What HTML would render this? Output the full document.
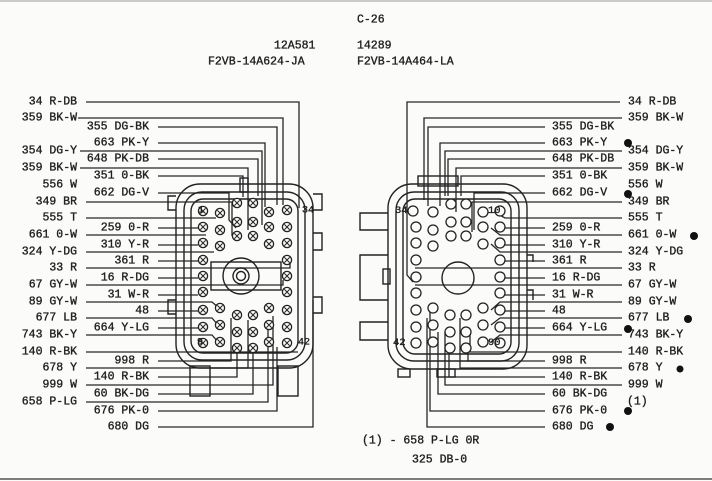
<!DOCTYPE html>
<html><head><meta charset="utf-8"><style>
html,body{margin:0;padding:0;background:#fbfbf9;}
svg{display:block;}
text{font-family:"Liberation Mono","DejaVu Sans Mono",monospace;font-size:11.5px;fill:#1e1e1e;dominant-baseline:central;stroke:#1e1e1e;stroke-width:0.35;}
.w{stroke:#262626;stroke-width:1.3;fill:none;}
.b{stroke:#222;stroke-width:1.4;fill:none;}
</style></head><body>
<svg width="712" height="481" viewBox="0 0 712 481" xmlns="http://www.w3.org/2000/svg">
<defs>
<g id="px"><circle r="4.6" fill="#fbfbf9" stroke="#222" stroke-width="1.3"/><path d="M-2.6,-2.6L2.6,2.6M2.6,-2.6L-2.6,2.6" stroke="#222" stroke-width="1"/></g>
<g id="po"><circle r="5" fill="#fbfbf9" stroke="#222" stroke-width="1.3"/></g>
</defs>
<line x1="0" y1="479" x2="712" y2="479" stroke="#555" stroke-width="1.5"/>
<line x1="0" y1="1" x2="712" y2="1" stroke="#999" stroke-width="1"/>

<text x="357" y="20">C-26</text>
<text x="274" y="46">12A581</text>
<text x="357" y="46">14289</text>
<text x="208" y="62">F2VB-14A624-JA</text>
<text x="357" y="62">F2VB-14A464-LA</text>
<text x="362" y="441">(1) - 658 P-LG 0R</text>
<text x="412" y="460">325 DB-0</text>

<g class="w">
<path d="M86,102H299V208"/>
<path d="M78,118H283V205"/>
<path d="M158,127H277V205"/>
<path d="M158,143H265V207"/>
<path d="M80,151H262V225"/>
<path d="M158,159H258V196"/>
<path d="M80,168H248V230"/>
<path d="M158,176H243V197"/>
<path d="M158,193H229V220L236,228"/>
<path d="M86,202H232V236"/>
<path d="M86,218H216"/>
<path d="M86,235H206"/>
<path d="M158,228H198"/>
<path d="M158,245H198"/>
<path d="M86,252H214"/>
<path d="M158,261H198"/>
<path d="M86,268H290V262"/>
<path d="M158,278H198"/>
<path d="M86,285H283V280"/>
<path d="M158,295H198"/>
<path d="M86,302H212L219,308"/>
<path d="M158,311H198"/>
<path d="M86,318H212L218,325"/>
<path d="M158,328H198"/>
<path d="M86,335H212L218,342"/>
<path d="M86,352H298"/>
<path d="M158,361H231V318"/>
<path d="M86,368H248V320"/>
<path d="M158,377H237V350"/>
<path d="M86,385H273V316"/>
<path d="M158,394H253V350"/>
<path d="M86,402H268V328"/>
<path d="M158,411H277V347"/>
<path d="M158,427H313V300"/>
</g>
<g class="b">
<rect x="176" y="184" width="137" height="184" rx="24"/>
<rect x="184" y="192" width="121" height="168" rx="18"/>
<rect x="191" y="199" width="107" height="154" rx="12"/>
<rect x="211" y="262" width="70" height="28"/>
<circle cx="241" cy="276" r="18"/>
<circle cx="241" cy="276" r="8"/>
<circle cx="241" cy="276" r="4.5"/>
<path d="M313,194H322V210H313M313,233H322V250H313M313,297H322V313H313"/>
<path d="M176,196H168V210H176M176,300H168V314H176"/>
<rect x="190" y="366" width="20" height="30"/>
<rect x="278" y="366" width="20" height="30"/>
<rect x="240" y="178" width="8" height="14"/>
</g>
<g>
<use href="#px" x="203" y="211"/><use href="#px" x="220" y="213"/><use href="#px" x="237" y="203"/><use href="#px" x="253" y="203"/><use href="#px" x="269" y="212"/><use href="#px" x="287" y="210"/>
<use href="#px" x="203" y="227"/><use href="#px" x="220" y="230"/><use href="#px" x="237" y="222"/><use href="#px" x="253" y="222"/><use href="#px" x="269" y="227"/><use href="#px" x="287" y="227"/>
<use href="#px" x="203" y="243"/><use href="#px" x="220" y="246"/><use href="#px" x="237" y="236"/><use href="#px" x="253" y="236"/><use href="#px" x="269" y="244"/><use href="#px" x="287" y="243"/>
<use href="#px" x="203" y="260"/><use href="#px" x="203" y="276"/><use href="#px" x="203" y="292"/>
<use href="#px" x="287" y="260"/><use href="#px" x="287" y="276"/><use href="#px" x="287" y="292"/>
<use href="#px" x="203" y="310"/><use href="#px" x="220" y="308"/><use href="#px" x="237" y="315"/><use href="#px" x="253" y="315"/><use href="#px" x="269" y="308"/><use href="#px" x="287" y="310"/>
<use href="#px" x="203" y="327"/><use href="#px" x="220" y="325"/><use href="#px" x="237" y="332"/><use href="#px" x="253" y="332"/><use href="#px" x="269" y="325"/><use href="#px" x="287" y="327"/>
<use href="#px" x="203" y="343"/><use href="#px" x="220" y="342"/><use href="#px" x="237" y="348"/><use href="#px" x="253" y="348"/><use href="#px" x="269" y="342"/><use href="#px" x="287" y="343"/>
</g>
<text x="198" y="211" style="font-size:10px">1</text>
<text x="302" y="211" style="font-size:10px">34</text>
<text x="197" y="343" style="font-size:10px">9</text>
<text x="298" y="343" style="font-size:10px">42</text>

<g text-anchor="end">
<text x="77" y="102">34 R-DB</text>
<text x="77" y="118">359 BK-W</text>
<text x="77" y="151">354 DG-Y</text>
<text x="77" y="168">359 BK-W</text>
<text x="77" y="185">556 W</text>
<text x="77" y="202">349 BR</text>
<text x="77" y="218">555 T</text>
<text x="77" y="235">661 0-W</text>
<text x="77" y="252">324 Y-DG</text>
<text x="77" y="268">33 R</text>
<text x="77" y="285">67 GY-W</text>
<text x="77" y="302">89 GY-W</text>
<text x="77" y="318">677 LB</text>
<text x="77" y="335">743 BK-Y</text>
<text x="77" y="352">140 R-BK</text>
<text x="77" y="368">678 Y</text>
<text x="77" y="385">999 W</text>
<text x="77" y="402">658 P-LG</text>
<text x="149" y="127">355 DG-BK</text>
<text x="149" y="143">663 PK-Y</text>
<text x="149" y="159">648 PK-DB</text>
<text x="149" y="176">351 0-BK</text>
<text x="149" y="193">662 DG-V</text>
<text x="149" y="228">259 0-R</text>
<text x="149" y="245">310 Y-R</text>
<text x="149" y="261">361 R</text>
<text x="149" y="278">16 R-DG</text>
<text x="149" y="295">31 W-R</text>
<text x="149" y="311">48</text>
<text x="149" y="328">664 Y-LG</text>
<text x="149" y="361">998 R</text>
<text x="149" y="377">140 R-BK</text>
<text x="149" y="394">60 BK-DG</text>
<text x="149" y="411">676 PK-0</text>
<text x="149" y="427">680 DG</text>
</g>

<g class="w">
<path d="M620,102H407V275L413,282"/>
<path d="M622,118H424V200"/>
<path d="M545,127H428V206"/>
<path d="M545,143H440V206"/>
<path d="M622,151H445V196"/>
<path d="M545,159H448V196"/>
<path d="M622,168H456V212"/>
<path d="M545,176H461V196"/>
<path d="M545,193H474V230"/>
<path d="M622,202H472V232"/>
<path d="M622,218H505L494,212"/>
<path d="M545,228H505"/>
<path d="M622,235H500L491,228"/>
<path d="M545,245H505"/>
<path d="M622,252H500L491,244"/>
<path d="M545,261H505"/>
<path d="M622,268H415"/>
<path d="M545,278H505"/>
<path d="M622,285H415"/>
<path d="M545,295H505"/>
<path d="M622,302H500L491,310"/>
<path d="M545,311H505"/>
<path d="M622,318H500L491,325"/>
<path d="M545,328H505"/>
<path d="M622,335H500L491,342"/>
<path d="M622,352H470V332"/>
<path d="M545,361H468V350"/>
<path d="M622,368H460V318"/>
<path d="M545,377H449V350"/>
<path d="M622,385H445V332"/>
<path d="M545,394H438V332"/>
<path d="M545,411H430V310"/>
<path d="M545,427H427V318"/>
</g>
<g class="b">
<rect x="388" y="184" width="139" height="185" rx="24"/>
<rect x="396" y="192" width="123" height="169" rx="18"/>
<rect x="403" y="199" width="108" height="155" rx="12"/>
<circle cx="458" cy="278" r="16"/>
<path d="M388,213H360V230H388M388,255H360V300H388M388,322H360V340H388"/>
<rect x="383" y="269" width="7" height="15"/>
<path d="M527,255H533V262M527,290H533V300"/>
<rect x="398" y="369" width="12" height="8"/>
<rect x="437" y="369" width="18" height="8"/>
<rect x="418" y="176" width="40" height="10"/>
</g>
<g>
<use href="#po" x="413" y="211"/><use href="#po" x="433" y="212"/><use href="#po" x="451" y="204"/><use href="#po" x="466" y="204"/><use href="#po" x="483" y="212"/><use href="#po" x="500" y="211"/>
<use href="#po" x="416" y="227"/><use href="#po" x="433" y="230"/><use href="#po" x="451" y="222"/><use href="#po" x="466" y="222"/><use href="#po" x="483" y="227"/><use href="#po" x="500" y="227"/>
<use href="#po" x="416" y="243"/><use href="#po" x="433" y="246"/><use href="#po" x="451" y="236"/><use href="#po" x="466" y="236"/><use href="#po" x="483" y="244"/><use href="#po" x="500" y="243"/>
<use href="#po" x="416" y="260"/><use href="#po" x="416" y="277"/><use href="#po" x="416" y="293"/>
<use href="#po" x="500" y="260"/><use href="#po" x="500" y="277"/><use href="#po" x="500" y="293"/>
<use href="#po" x="416" y="310"/><use href="#po" x="433" y="308"/><use href="#po" x="450" y="315"/><use href="#po" x="466" y="315"/><use href="#po" x="483" y="308"/><use href="#po" x="500" y="310"/>
<use href="#po" x="416" y="327"/><use href="#po" x="433" y="325"/><use href="#po" x="450" y="332"/><use href="#po" x="466" y="332"/><use href="#po" x="483" y="325"/><use href="#po" x="500" y="327"/>
<use href="#po" x="416" y="343"/><use href="#po" x="433" y="342"/><use href="#po" x="450" y="348"/><use href="#po" x="466" y="348"/><use href="#po" x="483" y="342"/><use href="#po" x="500" y="343"/>
</g>
<text x="395" y="211" style="font-size:10.5px">34</text>
<text x="488" y="211" style="font-size:10.5px">10</text>
<text x="393" y="343" style="font-size:10.5px">42</text>
<text x="488" y="343" style="font-size:10.5px">90</text>

<g>
<text x="628" y="102">34 R-DB</text>
<text x="628" y="118">359 BK-W</text>
<text x="628" y="151">354 DG-Y</text>
<text x="628" y="168">359 BK-W</text>
<text x="628" y="185">556 W</text>
<text x="628" y="202">349 BR</text>
<text x="628" y="218">555 T</text>
<text x="628" y="235">661 0-W</text>
<text x="628" y="252">324 Y-DG</text>
<text x="628" y="268">33 R</text>
<text x="628" y="285">67 GY-W</text>
<text x="628" y="302">89 GY-W</text>
<text x="628" y="318">677 LB</text>
<text x="628" y="335">743 BK-Y</text>
<text x="628" y="352">140 R-BK</text>
<text x="628" y="368">678 Y</text>
<text x="628" y="385">999 W</text>
<text x="627" y="402">(1)</text>
<text x="552" y="127">355 DG-BK</text>
<text x="552" y="143">663 PK-Y</text>
<text x="552" y="159">648 PK-DB</text>
<text x="552" y="176">351 0-BK</text>
<text x="552" y="193">662 DG-V</text>
<text x="552" y="228">259 0-R</text>
<text x="552" y="245">310 Y-R</text>
<text x="552" y="261">361 R</text>
<text x="552" y="278">16 R-DG</text>
<text x="552" y="295">31 W-R</text>
<text x="552" y="311">48</text>
<text x="552" y="328">664 Y-LG</text>
<text x="552" y="361">998 R</text>
<text x="552" y="377">140 R-BK</text>
<text x="552" y="394">60 BK-DG</text>
<text x="552" y="411">676 PK-0</text>
<text x="552" y="427">680 DG</text>
</g>
<g fill="#111">
<circle cx="628" cy="143" r="4"/>
<circle cx="628" cy="194" r="4"/>
<circle cx="694" cy="236" r="4"/>
<circle cx="688" cy="319" r="4"/>
<circle cx="628" cy="329" r="4"/>
<circle cx="680" cy="369" r="3.5"/>
<circle cx="628" cy="411" r="4"/>
<circle cx="610" cy="427" r="4"/>
</g>
</svg>
</body></html>
